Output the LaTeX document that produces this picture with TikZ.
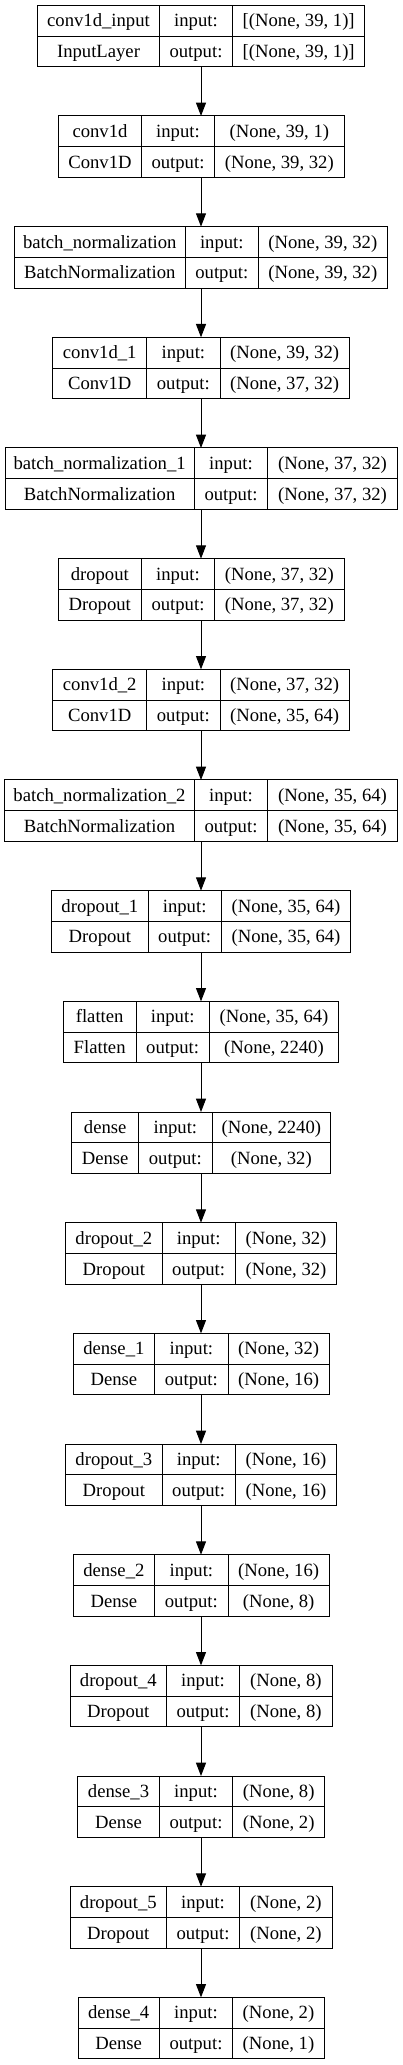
\documentclass[tikz,border=0pt]{standalone}
\usepackage{fontspec}
\setmainfont{Liberation Serif}
\usetikzlibrary{arrows.meta}

\begin{document}
\begin{tikzpicture}[x=0.75pt,y=-0.75pt,->,>={Triangle[length=10pt,width=7.5pt]},
  line width=0.75pt,
  cell/.style={draw,-,inner sep=0pt,minimum height=23.06pt,text height=9.3pt,text depth=0pt,
    font=\fontsize{14pt}{16pt}\selectfont},
  layer box/.style={inner sep=0pt,outer sep=0pt,minimum height=46.1pt}]
  \useasboundingbox (0,0) rectangle (403,2065);
  \foreach \i/\nm/\ty/\inp/\outp/\xa/\xb/\xc/\xd in {
    0/conv1d\_input/InputLayer/{[(None, 39, 1)]}/{[(None, 39, 1)]}/37.7/159.3/232.7/364.7,
    1/conv1d/Conv1D/{(None, 39, 1)}/{(None, 39, 32)}/58.7/141.3/214.7/344,
    2/batch\_normalization/BatchNormalization/{(None, 39, 32)}/{(None, 39, 32)}/14.3/185.3/258.3/387.3,
    3/conv1d\_1/Conv1D/{(None, 39, 32)}/{(None, 37, 32)}/52.7/146.7/220/349.3,
    4/batch\_normalization\_1/BatchNormalization/{(None, 37, 32)}/{(None, 37, 32)}/5/194.3/267.7/397.3,
    5/dropout/Dropout/{(None, 37, 32)}/{(None, 37, 32)}/58.3/141.3/214.7/344,
    6/conv1d\_2/Conv1D/{(None, 37, 32)}/{(None, 35, 64)}/52.7/146.7/220/349.3,
    7/batch\_normalization\_2/BatchNormalization/{(None, 35, 64)}/{(None, 35, 64)}/4.7/194.3/267.7/397.3,
    8/dropout\_1/Dropout/{(None, 35, 64)}/{(None, 35, 64)}/51.7/148/221.3/350.7,
    9/flatten/Flatten/{(None, 35, 64)}/{(None, 2240)}/63.3/136/209.3/338.7,
    10/dense/Dense/{(None, 2240)}/{(None, 32)}/71.7/138.7/212/330.7,
    11/dropout\_2/Dropout/{(None, 32)}/{(None, 32)}/65.7/162/235.3/336.7,
    12/dense\_1/Dense/{(None, 32)}/{(None, 16)}/73/154.7/228/329.3,
    13/dropout\_3/Dropout/{(None, 16)}/{(None, 16)}/65.7/162/235.3/336.7,
    14/dense\_2/Dense/{(None, 16)}/{(None, 8)}/73/154.7/228/329.3,
    15/dropout\_4/Dropout/{(None, 8)}/{(None, 8)}/70.3/166.3/239.7/332,
    16/dense\_3/Dense/{(None, 8)}/{(None, 2)}/77.7/159.3/232.7/324.7,
    17/dropout\_5/Dropout/{(None, 2)}/{(None, 2)}/70.3/166.3/239.7/332,
    18/dense\_4/Dense/{(None, 2)}/{(None, 1)}/78/159.3/232.7/324.3}{
    \pgfmathsetmacro\yt{5.3+110.67*\i}
    \pgfmathsetmacro\ya{\yt+15.375}
    \pgfmathsetmacro\yb{\yt+46.125}
    \node[layer box,minimum width=(\xd-\xa)*0.75pt] (l\i) at (201,{\yt+30.75}) {};
    \node[cell,minimum width=(\xb-\xa)*0.75pt] (l\i name) at ({(\xa+\xb)/2},\ya) {\nm};
    \node[cell,minimum width=(\xb-\xa)*0.75pt] (l\i type) at ({(\xa+\xb)/2},\yb) {\ty};
    \node[cell,minimum width=(\xc-\xb)*0.75pt] (l\i inkey) at ({(\xb+\xc)/2},\ya) {input:};
    \node[cell,minimum width=(\xc-\xb)*0.75pt] (l\i outkey) at ({(\xb+\xc)/2},\yb) {output:};
    \node[cell,minimum width=(\xd-\xc)*0.75pt] (l\i in) at ({(\xc+\xd)/2},\ya) {\inp};
    \node[cell,minimum width=(\xd-\xc)*0.75pt] (l\i out) at ({(\xc+\xd)/2},\yb) {\outp};
  }
  \foreach \i [evaluate=\i as \j using int(\i+1)] in {0,...,17}
    \draw (l\i.south) -- (l\j.north);
\end{tikzpicture}
\end{document}
